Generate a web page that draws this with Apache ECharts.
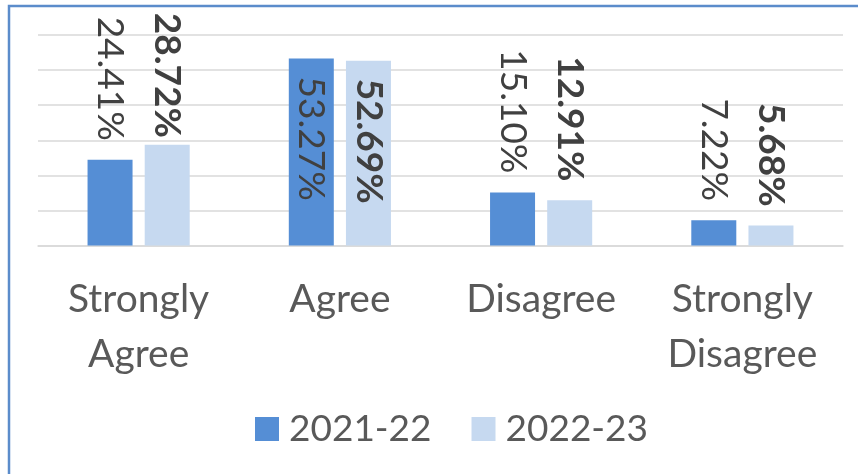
<!DOCTYPE html>
<html>
<head>
<meta charset="utf-8">
<script src="https://cdn.jsdelivr.net/npm/echarts@6/dist/echarts.min.js"></script>
<style>
  html, body { margin: 0; padding: 0; background: #fff; }
  #chart { width: 858px; height: 474px; }
</style>
</head>
<body>
<div id="chart"></div>
<script>
// Data
const categories = ['Strongly\nAgree', 'Agree', 'Disagree', 'Strongly\nDisagree'];
const seriesNames = ['2021-22', '2022-23'];
const values2122 = [24.41, 53.27, 15.10, 7.22];
const values2223 = [28.72, 52.69, 12.91, 5.68];

const colors = ['#558ED5', '#C6D9F0'];
const fontFamily = 'Lato, "Open Sans", sans-serif';

// Excel-like label placement: outside end, moved inside when no room
function labelFor(v, bold) {
  const base = {
    show: true,
    rotate: -90,
    verticalAlign: 'middle',
    fontFamily: fontFamily,
    fontSize: 37,
    fontWeight: bold ? 'bold' : 'normal',
    color: '#404040',
    formatter: (p) => p.value.toFixed(2) + '%',
  };
  if (v > 50) {
    return { ...base, position: 'insideTop', distance: 18, align: 'left' };
  }
  if (v > 26) {
    return { ...base, position: 'top', distance: 7, align: 'right' };
  }
  return { ...base, position: 'top', distance: 19, align: 'right' };
}

function buildData(values, bold) {
  return values.map((v) => ({ value: v, label: labelFor(v, bold) }));
}

const chart = echarts.init(document.getElementById('chart'));

chart.setOption({
  animation: false,
  backgroundColor: '#fff',
  graphic: [
    {
      type: 'polyline',
      shape: { points: [[9, 474], [9, 6], [858, 6]] },
      style: { stroke: '#5B8CCB', lineWidth: 2.5, fill: null },
      silent: true,
    },
  ],
  legend: {
    data: seriesNames,
    left: 250,
    top: 404,
    itemWidth: 24,
    itemHeight: 24,
    itemGap: 40,
    icon: 'rect',
    textStyle: {
      fontFamily: fontFamily,
      fontSize: 37,
      lineHeight: 40,
      color: '#595959',
      padding: [0, 0, 0, 5],
    },
  },
  grid: {
    left: 38,
    right: 15,
    top: 35,
    bottom: 228.5,
  },
  xAxis: {
    type: 'category',
    data: categories,
    axisLine: { show: true, lineStyle: { color: '#D9D9D9', width: 1.5 } },
    axisTick: { show: false },
    axisLabel: {
      fontFamily: fontFamily,
      fontSize: 39,
      lineHeight: 55,
      color: '#595959',
      margin: 26,
      interval: 0,
    },
  },
  yAxis: {
    type: 'value',
    min: 0,
    max: 60,
    interval: 10,
    axisLabel: { show: false },
    axisLine: { show: false },
    axisTick: { show: false },
    splitLine: { lineStyle: { color: '#D9D9D9', width: 1.5 } },
  },
  series: [
    {
      name: seriesNames[0],
      type: 'bar',
      data: buildData(values2122, false),
      barWidth: 45,
      barGap: '27%',
      itemStyle: { color: colors[0] },
    },
    {
      name: seriesNames[1],
      type: 'bar',
      data: buildData(values2223, true),
      barWidth: 45,
      barGap: '27%',
      itemStyle: { color: colors[1] },
    },
  ],
});
</script>
</body>
</html>
